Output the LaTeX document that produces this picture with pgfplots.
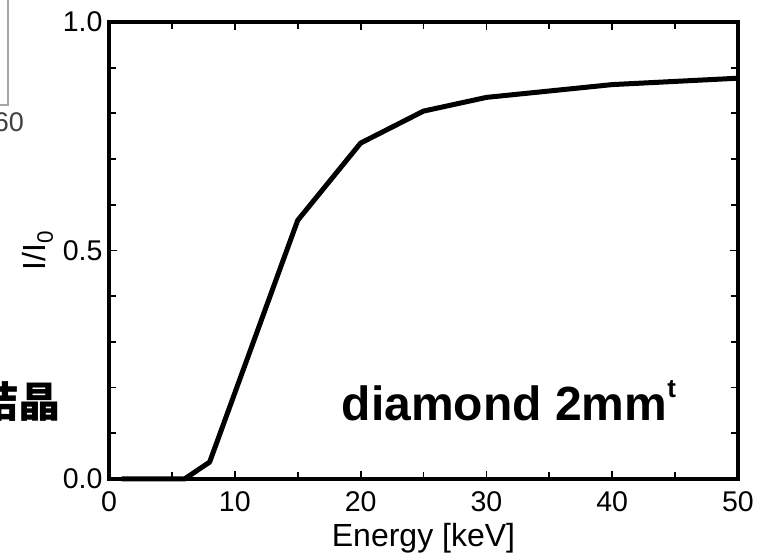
\documentclass[border=0pt]{standalone}
\usepackage{fontspec}
\setmainfont{Liberation Sans}
\newfontfamily\cjk{Noto Sans CJK JP}
\usepackage{pgfplots}
\pgfplotsset{compat=1.18}

\begin{document}
\begin{tikzpicture}[x=1pt,y=1pt]
  \path[use as bounding box] (0,0) rectangle (769,556);
  % fragments of the neighbouring figure
  \draw[gray!70, line width=1.5pt] (-5,451) -- (8,451) -- (8,560);
  \node[anchor=east, inner sep=0pt, text=black!75, font=\fontsize{27}{30}\selectfont] at (24,434) {60};
  \node[anchor=east, inner sep=0pt, font=\cjk\bfseries\fontsize{42}{46}\selectfont] at (61,154) {結晶};
  \begin{axis}[
      at={(109pt,77pt)}, anchor=south west,
      scale only axis, width=629pt, height=457pt,
      xmin=0, xmax=50, ymin=0, ymax=1,
      xtick={0,10,...,50}, minor xtick={5,15,...,45},
      ytick={0,0.5,1}, minor ytick={0.1,0.2,0.3,0.4,0.6,0.7,0.8,0.9},
      yticklabel style={/pgf/number format/fixed, /pgf/number format/fixed zerofill,
        /pgf/number format/precision=1, xshift=-3pt},
      xticklabel style={yshift=-9pt},
      /pgf/number format/assume math mode=true,
      tick align=inside, major tick length=8pt, minor tick length=7pt,
      tick style={black, line width=1.8pt},
      axis line style={line width=4pt},
      every tick label/.append style={font=\fontsize{28.5}{32}\selectfont},
      xlabel={Energy [keV]}, ylabel={I/I\textsubscript{0}},
      label style={font=\fontsize{32}{36}\selectfont},
      xlabel style={at={(axis description cs:0.5,-0.13)}, anchor=center},
      ylabel style={at={(axis description cs:-0.113,0.5)}, anchor=center},
      clip=false
    ]
    \addplot[black, line width=5pt, line join=round] coordinates {
      (1,0) (6,0) (8,0.037) (15,0.566) (20,0.735) (25,0.805)
      (30,0.835) (40,0.863) (50,0.877)};
    \node[anchor=base west, inner sep=0pt, font=\bfseries\fontsize{48}{52}\selectfont]
      at (axis cs:18.5,0.129) {diamond 2mm\raisebox{0.9ex}{\fontsize{26}{28}\selectfont t}};
  \end{axis}
\end{tikzpicture}
\end{document}
